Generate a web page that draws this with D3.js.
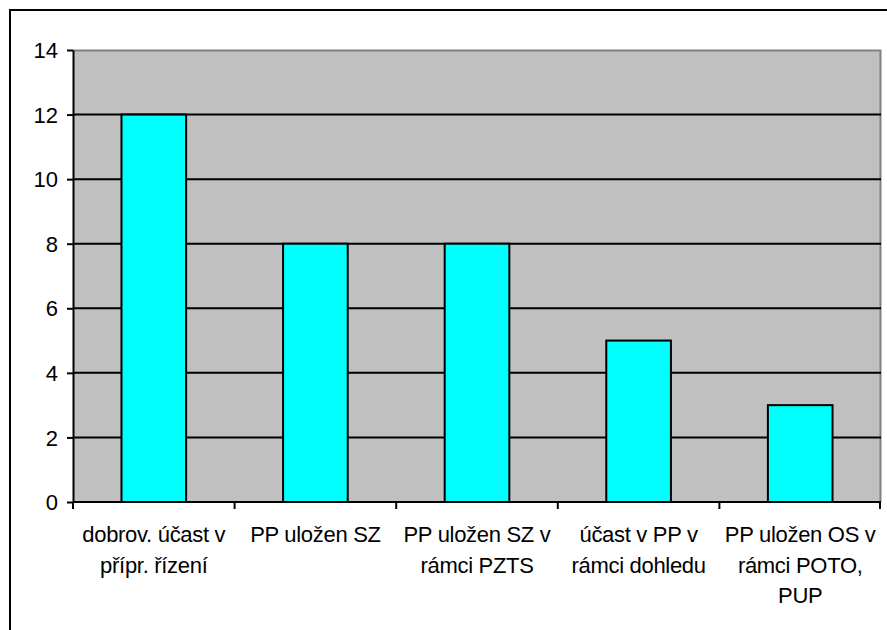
<!DOCTYPE html>
<html>
<head>
<meta charset="utf-8">
<script src="https://cdn.jsdelivr.net/npm/d3@7"></script>
<style>
  body { margin: 0; background: #fff; overflow: hidden; }
  svg { display: block; }
  svg text { font-family: "Liberation Sans", Arial, sans-serif; fill: #000; }
</style>
</head>
<body>
<svg id="chart"></svg>
<script>
/* data */
var categories = [
	"dobrov. účast v\npřípr. řízení",
	"PP uložen SZ",
	"PP uložen SZ v\nrámci PZTS",
	"účast v PP v\nrámci dohledu",
	"PP uložen OS v\nrámci POTO,\nPUP"
];
var values = [12, 8, 8, 5, 3];
var yTicks = [0, 2, 4, 6, 8, 10, 12, 14];

/* settings */
var width = 887,
	height = 630,
	margin = { top: 50, right: 6, bottom: 128, left: 73 },
	fontSize = 22;

var innerWidth = width - margin.left - margin.right;
var innerHeight = height - margin.top - margin.bottom;

var svg = d3.select("#chart")
	.attr("width", width)
	.attr("height", height);

// outer chart border (right and bottom edges fall outside the picture)
svg.append("path")
	.attr("d", "M10," + height + "V10H" + width)
	.attr("fill", "none")
	.attr("stroke", "#000")
	.attr("stroke-width", 2);

var g = svg.append("g")
	.attr("transform", "translate(" + margin.left + "," + margin.top + ")");

/* scales */
var xScale = d3.scaleBand()
	.domain(categories)
	.range([0, innerWidth])
	.paddingInner(0.6)
	.paddingOuter(0.3);

var xBand = d3.scaleBand() // category slots, for the tick marks
	.domain(categories)
	.range([0, innerWidth]);

var yScale = d3.scaleLinear()
	.domain([0, 14])
	.range([innerHeight, 0]);

/* plot area */
g.append("rect")
	.attr("width", innerWidth)
	.attr("height", innerHeight)
	.attr("fill", "#c0c0c0");

g.append("path") // darker top / right edge
	.attr("d", "M0,0.5H" + (innerWidth - 0.5) + "V" + innerHeight)
	.attr("fill", "none")
	.attr("stroke", "#808080")
	.attr("stroke-width", 2);

/* gridlines */
g.selectAll(".grid")
	.data(yTicks.filter(function(d) { return d > 0 && d < 14; }))
	.enter().append("line")
		.attr("class", "grid")
		.attr("x1", 0).attr("x2", innerWidth)
		.attr("y1", function(d) { return yScale(d); })
		.attr("y2", function(d) { return yScale(d); })
		.attr("stroke", "#000")
		.attr("stroke-width", 2);

/* bars */
g.selectAll(".bar")
	.data(values)
	.enter().append("rect")
		.attr("class", "bar")
		.attr("x", function(d, i) { return xScale(categories[i]); })
		.attr("y", function(d) { return yScale(d); })
		.attr("width", xScale.bandwidth())
		.attr("height", function(d) { return innerHeight - yScale(d); })
		.attr("fill", "#00ffff")
		.attr("stroke", "#000")
		.attr("stroke-width", 2);

/* y-axis */
var yAxis = d3.axisLeft(yScale)
	.tickValues(yTicks)
	.tickSize(6)
	.tickPadding(9)
	.tickSizeOuter(0);

var yAxisG = g.append("g")
	.attr("class", "y-axis")
	.attr("font-size", fontSize)
	.attr("font-family", null)
	.call(yAxis);
yAxisG.select(".domain").attr("stroke-width", 2);
yAxisG.selectAll(".tick line").attr("stroke-width", 2);
yAxisG.selectAll("text")
	.attr("font-size", fontSize)
	.attr("dy", "0.35em");

/* x-axis */
var xAxisG = g.append("g")
	.attr("class", "x-axis")
	.attr("transform", "translate(0," + innerHeight + ")");

xAxisG.append("line")
	.attr("x1", 0).attr("x2", innerWidth)
	.attr("stroke", "#000")
	.attr("stroke-width", 2);

xAxisG.selectAll(".xtick")
	.data(categories.concat([null]))
	.enter().append("line")
		.attr("class", "xtick")
		.attr("x1", function(d) { return d === null ? innerWidth - 1 : xBand(d); })
		.attr("x2", function(d) { return d === null ? innerWidth - 1 : xBand(d); })
		.attr("y1", 0).attr("y2", 7)
		.attr("stroke", "#000")
		.attr("stroke-width", 2);

// one text element per label line
var labelLines = [];
categories.forEach(function(c) {
	c.split("\n").forEach(function(line, i) {
		labelLines.push({ cat: c, line: line, row: i });
	});
});

xAxisG.selectAll(".xlabel")
	.data(labelLines)
	.enter().append("text")
		.attr("class", "xlabel")
		.attr("text-anchor", "middle")
		.attr("font-size", fontSize)
		.attr("letter-spacing", -0.3)
		.attr("x", function(d) { return xBand(d.cat) + xBand.bandwidth() / 2; })
		.attr("y", function(d) { return 40 + d.row * 30.5; })
		.text(function(d) { return d.line; });
</script>
</body>
</html>
